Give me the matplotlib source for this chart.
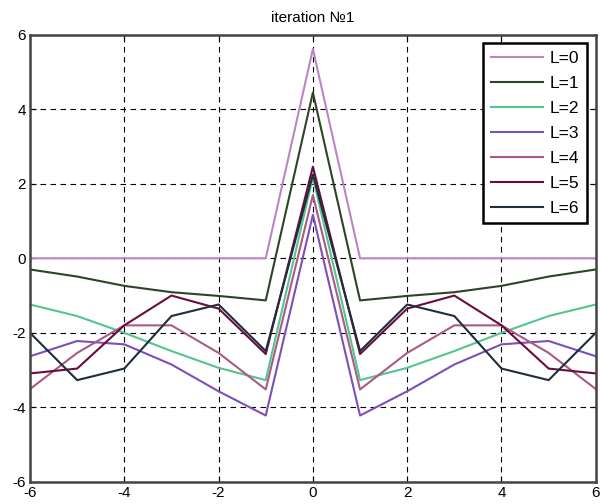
import numpy as np
import matplotlib
matplotlib.use("Agg")
import matplotlib.pyplot as plt

x = [-6, -5, -4, -3, -2, -1, 0, 1, 2, 3, 4, 5, 6]

L0 = [0, 0, 0, 0, 0, 0, 5.62, 0, 0, 0, 0, 0, 0]
L1 = [-0.30, -0.49, -0.74, -0.91, -1.01, -1.13, 4.45, -1.13, -1.01, -0.91, -0.74, -0.49, -0.30]
L2 = [-1.24, -1.55, -2.00, -2.49, -2.94, -3.27, 2.18, -3.27, -2.94, -2.49, -2.00, -1.55, -1.24]
L3 = [-2.63, -2.22, -2.31, -2.85, -3.57, -4.22, 1.17, -4.22, -3.57, -2.85, -2.31, -2.22, -2.63]
L4 = [-3.51, -2.54, -1.80, -1.80, -2.54, -3.52, 1.70, -3.52, -2.54, -1.80, -1.80, -2.54, -3.51]
L5 = [-3.09, -2.96, -1.80, -1.00, -1.35, -2.57, 2.46, -2.57, -1.35, -1.00, -1.80, -2.96, -3.09]
L6 = [-2.00, -3.27, -2.96, -1.55, -1.24, -2.49, 2.25, -2.49, -1.24, -1.55, -2.96, -3.27, -2.00]

series = [L0, L1, L2, L3, L4, L5, L6]
labels = ["L=0", "L=1", "L=2", "L=3", "L=4", "L=5", "L=6"]
colors = ["#bb85c4", "#2c4427", "#55c48e", "#7d4fb8", "#a95a85", "#6a0d3c", "#1f2d3d"]

plt.rcParams["font.family"] = ["Liberation Sans", "DejaVu Sans"]
plt.rcParams["axes.unicode_minus"] = False

fig = plt.figure(figsize=(6, 5.04), dpi=100)
ax = fig.add_axes([0.05, 0.044, 0.943, 0.887])

for ys, lab, c in zip(series, labels, colors):
    ax.plot(x, ys, color=c, linewidth=1.5, label=lab)

ax.set_xlim(-6, 6)
ax.set_ylim(-6, 6)
ax.set_xticks(np.arange(-6, 7, 2))
ax.set_yticks(np.arange(-6, 7, 2))
ax.grid(True, color="black", linestyle=(0, (5, 4)), linewidth=0.8)
ax.tick_params(direction="in", top=True, right=True, labelsize=11, length=4, pad=3)
for s in ax.spines.values():
    s.set_linewidth(1.8)
    s.set_color("#444444")

ax.set_title("iteration №1", fontsize=11, pad=9)

leg = ax.legend(loc="upper right", fancybox=False, fontsize=12.5, borderaxespad=0.5,
                borderpad=0.45, handlelength=3.0, handletextpad=0.4, labelspacing=0.56)
leg.get_frame().set_edgecolor("black")
leg.get_frame().set_linewidth(1.8)
leg.get_frame().set_alpha(1)

fig.savefig("out.png", dpi=100)
